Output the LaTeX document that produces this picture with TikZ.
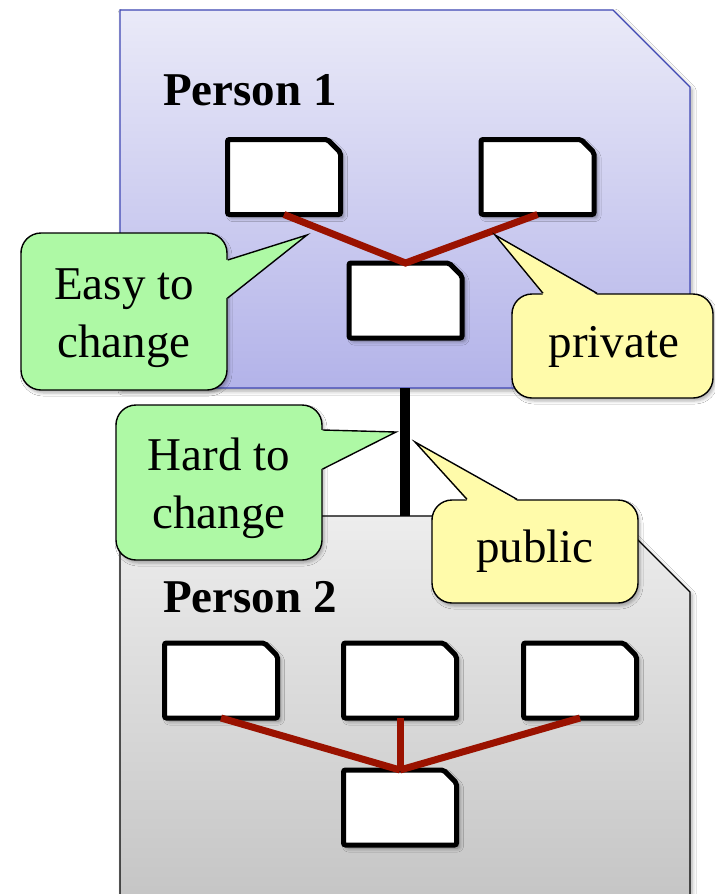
\documentclass[tikz,border=0pt]{standalone}
\usepackage{fontspec}
\setmainfont{Liberation Serif}
\usetikzlibrary{shadows.blur}

\definecolor{oneTop}{HTML}{EAEAF8}
\definecolor{oneBot}{HTML}{B3B3E9}
\definecolor{oneEdge}{HTML}{3F47B4}
\definecolor{twoTop}{HTML}{EDEDED}
\definecolor{twoBot}{HTML}{C4C4C4}
\definecolor{linkRed}{HTML}{9A1200}
\definecolor{noteGreen}{HTML}{AEF9A5}
\definecolor{noteYellow}{HTML}{FFFBAA}

% outline of a node with its north-east corner cut off
\newcommand\cutcornerpath[3]{%
  \path[#3] (#1.south west) -- (#1.north west) -- ([xshift=-#2]#1.north east)
    -- ([yshift=-#2]#1.north east) -- (#1.south east) -- cycle;}

\begin{document}
\begin{tikzpicture}[x=1pt,y=1pt,
  spot/.style={rectangle, inner sep=0pt, outer sep=0pt},
  personedge/.style={line width=1.2pt,
    blur shadow={shadow xshift=2pt, shadow yshift=-3pt, shadow blur radius=4pt, shadow opacity=35}},
  docspot/.style={spot, minimum width=113pt, minimum height=75pt},
  docedge/.style={draw=black, line width=5pt, fill=white, rounded corners=2pt,
    blur shadow={shadow xshift=3pt, shadow yshift=-3pt, shadow blur radius=4pt, shadow opacity=45}},
  link/.style={draw=linkRed, line width=7pt},
  label/.style={font=\fontsize{47}{56}\selectfont\bfseries, anchor=base west, inner sep=0pt},
  note/.style={rounded corners=20pt, draw=black, line width=1.4pt, inner sep=0pt,
    blur shadow={shadow xshift=2pt, shadow yshift=-3pt, shadow blur radius=3pt, shadow opacity=30}},
  notetext/.style={align=center, inner sep=0pt, font=\fontsize{47}{58}\selectfont},
  tipedge/.style={draw=black, line width=1.4pt, line join=miter},
]
\useasboundingbox (0,0) rectangle (715,-894);
\clip (0,0) rectangle (715,-894);
\fill[white] (0,0) rectangle (715,-894);

% the two people
\node[spot, minimum width=570pt, minimum height=394pt] (p2) at (405,-713) {};
\cutcornerpath{p2}{76pt}{personedge, draw=black, top color=twoTop, bottom color=twoBot}
\node[spot, minimum width=570pt, minimum height=378pt] (p1) at (405,-199) {};
\cutcornerpath{p1}{77pt}{personedge, draw=oneEdge, top color=oneTop, bottom color=oneBot}

\node[label] (p1label) at (163,-105) {Person 1};
\node[label] (p2label) at (163,-612) {Person 2};

% the public link between them
\draw[line width=10pt] (p1.south) -- (p2.north);

% modules of person 1
\node[docspot] (a) at (284,-177) {};
\node[docspot] (b) at (537.5,-177) {};
\node[docspot] (c) at (405.5,-300.5) {};
\cutcornerpath{a}{13pt}{docedge}
\cutcornerpath{b}{13pt}{docedge}
\cutcornerpath{c}{13pt}{docedge}
\draw[link] (a.south) -- (c.north) -- (b.south);

% modules of person 2
\node[docspot] (d) at (221,-680.5) {};
\node[docspot] (e) at (400,-680.5) {};
\node[docspot] (f) at (580,-680.5) {};
\node[docspot] (g) at (400,-807.5) {};
\cutcornerpath{d}{13pt}{docedge}
\cutcornerpath{e}{13pt}{docedge}
\cutcornerpath{f}{13pt}{docedge}
\cutcornerpath{g}{13pt}{docedge}
\draw[link] (d.south) -- (g.north);
\draw[link] (e.south) -- (g.north);
\draw[link] (f.south) -- (g.north);

% callouts
\node[note, fill=noteGreen, minimum width=206pt, minimum height=157pt] (easy) at (124,-311.5) {};
\coordinate (easytip) at (307,-235);
\fill[noteGreen] ([xshift=-1.5pt,yshift=51.5pt]easy.east) -- (easytip) -- ([xshift=-1.5pt,yshift=13.5pt]easy.east) -- cycle;
\draw[tipedge] ([yshift=51.5pt]easy.east) -- (easytip) -- ([yshift=13.5pt]easy.east);
\node[notetext] (easytext) at (124,-318) {Easy to\\change};

\node[note, fill=noteYellow, minimum width=201pt, minimum height=104pt] (priv) at (612.5,-346) {};
\coordinate (privtip) at (495,-235);
\fill[noteYellow] ([xshift=-69.5pt,yshift=-1.5pt]priv.north) -- (privtip) -- ([xshift=-15.5pt,yshift=-1.5pt]priv.north) -- cycle;
\draw[tipedge] ([xshift=-69.5pt]priv.north) -- (privtip) -- ([xshift=-15.5pt]priv.north);
\node[notetext, anchor=base] (privtext) at (614,-357) {private};

\node[note, fill=noteGreen, minimum width=206pt, minimum height=155pt] (hard) at (219,-482.5) {};
\coordinate (hardtip) at (396,-432);
\fill[noteGreen] ([xshift=-1.5pt,yshift=52.5pt]hard.east) -- (hardtip) -- ([xshift=-1.5pt,yshift=13.5pt]hard.east) -- cycle;
\draw[tipedge] ([yshift=52.5pt]hard.east) -- (hardtip) -- ([yshift=13.5pt]hard.east);
\node[notetext] (hardtext) at (219,-488) {Hard to\\change};

\node[note, fill=noteYellow, minimum width=206pt, minimum height=103pt] (pub) at (535,-551.5) {};
\coordinate (pubtip) at (415,-442);
\fill[noteYellow] ([xshift=-68pt,yshift=-1.5pt]pub.north) -- (pubtip) -- ([xshift=-18pt,yshift=-1.5pt]pub.north) -- cycle;
\draw[tipedge] ([xshift=-68pt]pub.north) -- (pubtip) -- ([xshift=-18pt]pub.north);
\node[notetext, anchor=base] (pubtext) at (535,-562) {public};
\end{tikzpicture}
\end{document}
